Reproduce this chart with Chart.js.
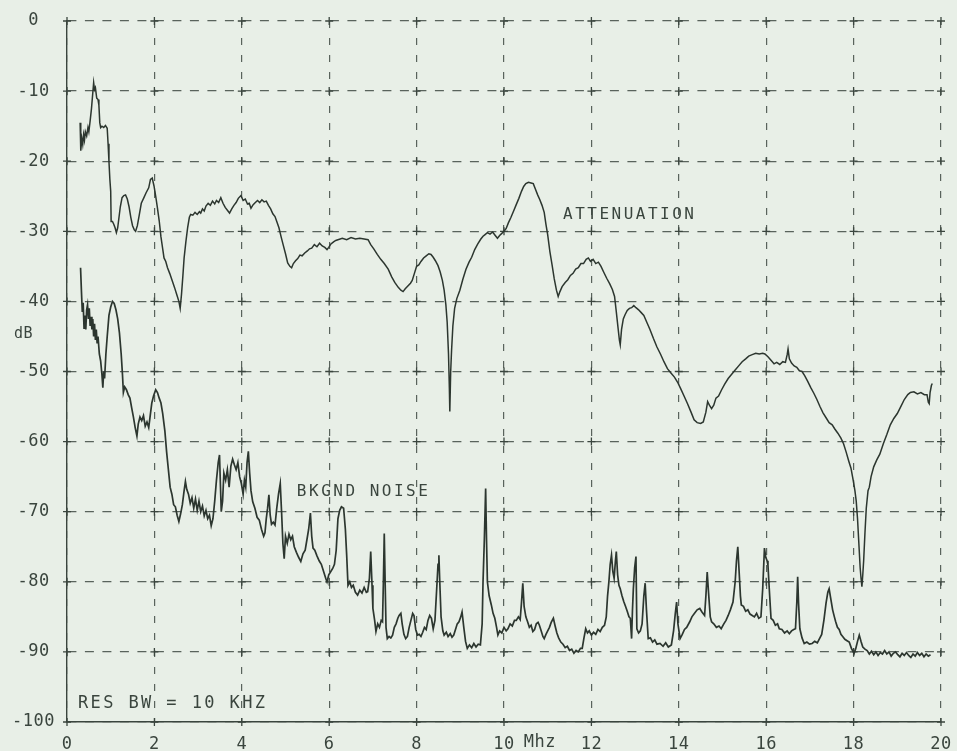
<!DOCTYPE html>
<html>
<head>
<meta charset="utf-8">
<script src="https://cdn.jsdelivr.net/npm/chart.js@4.4.1/dist/chart.umd.min.js"></script>
<style>
  html, body { margin: 0; padding: 0; background: #e8efe7; }
  #wrap { width: 957px; height: 751px; }
</style>
</head>
<body>
<div id="wrap"><canvas id="c" width="957" height="751"></canvas></div>
<script>
// Cable attenuation sweep, 0 - 20 MHz (dB)
const attenFreq = [0.30,0.31,0.32,0.34,0.36,0.38,0.40,0.42,0.45,0.48,0.50,0.53,0.56,0.58,0.61,0.63,0.65,0.68,0.71,0.73,0.75,0.77,0.80,0.84,0.88,0.92,0.94,0.96,0.98,1.00,1.01,1.04,1.07,1.10,1.13,1.16,1.19,1.22,1.26,1.30,1.34,1.38,1.42,1.46,1.50,1.54,1.57,1.61,1.65,1.70,1.76,1.81,1.87,1.91,1.95,1.99,2.03,2.07,2.11,2.15,2.19,2.22,2.26,2.30,2.35,2.41,2.46,2.52,2.56,2.59,2.62,2.65,2.68,2.72,2.76,2.80,2.83,2.88,2.93,2.98,3.03,3.06,3.10,3.14,3.18,3.23,3.28,3.33,3.38,3.42,3.47,3.52,3.57,3.62,3.67,3.72,3.77,3.82,3.87,3.92,3.98,4.03,4.08,4.13,4.17,4.21,4.26,4.31,4.36,4.41,4.46,4.51,4.56,4.61,4.66,4.71,4.76,4.80,4.85,4.90,4.95,5.00,5.05,5.10,5.14,5.18,5.23,5.28,5.33,5.38,5.44,5.50,5.55,5.60,5.66,5.72,5.78,5.84,5.90,5.95,5.99,6.04,6.10,6.15,6.20,6.30,6.40,6.50,6.60,6.70,6.80,6.89,6.95,7.02,7.10,7.18,7.26,7.35,7.43,7.50,7.58,7.64,7.69,7.74,7.80,7.86,7.90,7.95,8.00,8.05,8.10,8.16,8.22,8.28,8.33,8.38,8.43,8.49,8.54,8.59,8.63,8.67,8.70,8.73,8.75,8.76,8.78,8.80,8.83,8.87,8.92,8.99,9.06,9.13,9.20,9.26,9.33,9.40,9.47,9.52,9.56,9.62,9.68,9.74,9.80,9.85,9.90,9.95,10.00,10.05,10.10,10.16,10.22,10.28,10.34,10.40,10.45,10.50,10.56,10.62,10.67,10.72,10.77,10.82,10.87,10.92,10.96,11.00,11.05,11.10,11.15,11.20,11.24,11.28,11.33,11.40,11.46,11.52,11.58,11.64,11.70,11.76,11.82,11.88,11.93,11.98,12.04,12.10,12.16,12.22,12.28,12.35,12.42,12.48,12.53,12.57,12.61,12.64,12.66,12.69,12.73,12.77,12.82,12.87,12.92,12.97,13.02,13.08,13.14,13.20,13.27,13.34,13.42,13.50,13.58,13.66,13.74,13.82,13.90,13.97,14.04,14.12,14.20,14.28,14.35,14.42,14.50,14.56,14.62,14.66,14.70,14.75,14.80,14.85,14.91,14.98,15.05,15.13,15.21,15.29,15.37,15.45,15.53,15.60,15.68,15.76,15.84,15.92,15.97,16.04,16.11,16.18,16.24,16.31,16.38,16.44,16.48,16.50,16.53,16.58,16.64,16.70,16.76,16.82,16.88,16.95,17.02,17.09,17.16,17.23,17.30,17.37,17.44,17.51,17.57,17.64,17.71,17.77,17.83,17.89,17.94,17.99,18.03,18.06,18.09,18.12,18.15,18.17,18.19,18.21,18.23,18.26,18.29,18.33,18.36,18.40,18.46,18.53,18.60,18.68,18.76,18.84,18.92,19.00,19.08,19.16,19.24,19.30,19.38,19.46,19.54,19.62,19.68,19.71,19.73,19.75,19.78,19.80];
const attenDb = [-14.5,-17.5,-18.5,-16.8,-17.6,-16.2,-17.0,-15.8,-16.4,-15.2,-15.8,-14.2,-12.5,-11.0,-8.8,-9.8,-9.5,-11.0,-11.2,-12.0,-14.5,-15.2,-15.0,-15.2,-14.9,-15.3,-17.5,-20.0,-22.5,-24.3,-28.6,-28.6,-29.0,-29.5,-30.2,-29.5,-28.0,-26.5,-25.2,-24.9,-24.8,-25.4,-26.5,-28.0,-29.2,-29.8,-30.0,-29.2,-27.8,-26.0,-25.2,-24.5,-23.8,-22.6,-22.4,-23.5,-25.0,-26.7,-28.5,-30.8,-32.5,-33.8,-34.3,-35.2,-36.0,-37.1,-38.0,-39.2,-40.0,-41.0,-39.0,-36.5,-33.8,-31.5,-29.5,-28.0,-27.6,-27.7,-27.3,-27.6,-27.2,-27.4,-26.8,-27.1,-26.4,-26.0,-26.3,-25.7,-26.1,-25.6,-25.9,-25.2,-26.0,-26.6,-27.0,-27.4,-26.8,-26.3,-25.9,-25.3,-24.9,-25.6,-25.4,-26.1,-26.0,-26.7,-26.2,-25.9,-25.6,-25.9,-25.5,-25.8,-25.7,-26.3,-26.8,-27.5,-27.9,-28.6,-29.5,-30.8,-32.0,-33.2,-34.5,-35.0,-35.2,-34.6,-34.2,-33.9,-33.4,-33.5,-33.1,-32.8,-32.5,-32.4,-31.9,-32.2,-31.7,-32.1,-32.3,-32.6,-32.3,-31.8,-31.5,-31.3,-31.2,-31.0,-31.2,-30.9,-31.1,-31.0,-31.1,-31.2,-31.9,-32.5,-33.3,-34.0,-34.6,-35.4,-36.5,-37.3,-38.0,-38.4,-38.6,-38.2,-37.8,-37.4,-37.0,-36.0,-35.0,-34.8,-34.3,-33.8,-33.5,-33.2,-33.3,-33.7,-34.2,-34.9,-35.8,-37.0,-38.4,-40.5,-43.0,-47.5,-52.5,-55.7,-50.0,-47.0,-43.5,-41.0,-39.6,-38.4,-36.8,-35.4,-34.4,-33.7,-32.6,-31.8,-31.1,-30.7,-30.5,-30.2,-30.4,-30.1,-30.6,-31.0,-30.6,-30.3,-30.0,-29.6,-28.8,-28.0,-27.1,-26.2,-25.3,-24.3,-23.6,-23.2,-23.0,-23.1,-23.2,-24.0,-24.8,-25.5,-26.3,-27.3,-29.0,-30.5,-32.9,-34.8,-36.8,-38.4,-39.3,-38.6,-37.9,-37.3,-36.9,-36.3,-36.0,-35.4,-35.2,-34.6,-34.6,-34.0,-33.8,-34.3,-34.0,-34.6,-34.4,-35.0,-35.8,-36.7,-37.5,-38.3,-39.3,-41.5,-43.8,-45.5,-46.2,-44.0,-42.5,-41.9,-41.3,-41.0,-40.9,-40.6,-40.9,-41.2,-41.6,-42.0,-43.0,-44.0,-45.3,-46.5,-47.5,-48.6,-49.6,-50.2,-50.8,-51.5,-52.4,-53.5,-54.6,-55.8,-56.9,-57.3,-57.4,-57.2,-55.8,-54.3,-54.8,-55.3,-54.8,-53.8,-53.5,-52.6,-51.8,-51.0,-50.4,-49.8,-49.2,-48.6,-48.2,-47.8,-47.6,-47.4,-47.5,-47.4,-47.5,-47.9,-48.4,-48.9,-48.7,-49.0,-48.6,-48.7,-47.6,-46.8,-48.2,-48.8,-49.2,-49.4,-49.9,-50.0,-50.6,-51.4,-52.3,-53.1,-54.0,-55.0,-55.9,-56.6,-57.3,-57.6,-58.2,-58.8,-59.5,-60.3,-61.5,-62.8,-63.8,-65.5,-67.0,-68.5,-71.0,-74.5,-78.0,-79.5,-80.7,-79.0,-77.0,-73.0,-69.5,-67.0,-66.5,-65.0,-63.6,-62.6,-61.8,-60.3,-59.0,-57.6,-56.7,-56.0,-55.0,-54.0,-53.3,-53.0,-52.9,-53.2,-53.0,-53.3,-53.3,-54.4,-54.6,-53.0,-52.0,-51.7];

// Background noise floor, same sweep (dB)
const noiseFreq = [0.31,0.33,0.35,0.37,0.39,0.41,0.43,0.45,0.47,0.49,0.51,0.53,0.55,0.57,0.59,0.61,0.63,0.65,0.67,0.69,0.71,0.74,0.77,0.80,0.82,0.84,0.86,0.89,0.92,0.96,1.00,1.04,1.08,1.12,1.16,1.20,1.24,1.27,1.29,1.32,1.36,1.40,1.44,1.48,1.52,1.56,1.60,1.63,1.67,1.71,1.75,1.79,1.83,1.87,1.90,1.94,1.98,2.03,2.07,2.11,2.15,2.19,2.24,2.28,2.32,2.36,2.40,2.44,2.48,2.52,2.56,2.60,2.64,2.68,2.71,2.74,2.78,2.82,2.86,2.90,2.94,2.98,3.02,3.06,3.10,3.14,3.18,3.22,3.26,3.30,3.34,3.38,3.42,3.46,3.49,3.51,3.53,3.56,3.59,3.63,3.67,3.71,3.75,3.79,3.83,3.87,3.91,3.95,3.99,4.03,4.06,4.09,4.12,4.15,4.18,4.21,4.25,4.30,4.35,4.40,4.45,4.50,4.53,4.56,4.59,4.62,4.65,4.68,4.72,4.76,4.80,4.84,4.88,4.91,4.94,4.97,5.00,5.04,5.08,5.12,5.16,5.20,5.25,5.30,5.35,5.40,5.45,5.49,5.53,5.57,5.60,5.63,5.67,5.72,5.77,5.82,5.87,5.92,5.95,5.99,6.04,6.08,6.12,6.16,6.20,6.24,6.28,6.33,6.37,6.40,6.43,6.47,6.51,6.55,6.60,6.65,6.70,6.75,6.80,6.85,6.88,6.92,6.95,6.98,7.00,7.04,7.07,7.11,7.15,7.19,7.22,7.24,7.26,7.28,7.30,7.33,7.37,7.41,7.45,7.49,7.53,7.57,7.60,7.64,7.67,7.71,7.75,7.79,7.83,7.87,7.91,7.94,7.98,8.02,8.06,8.10,8.14,8.18,8.22,8.26,8.30,8.34,8.38,8.42,8.46,8.49,8.51,8.53,8.56,8.60,8.63,8.68,8.72,8.77,8.81,8.85,8.89,8.93,8.97,9.01,9.04,9.08,9.12,9.16,9.21,9.26,9.31,9.36,9.41,9.46,9.50,9.52,9.55,9.58,9.60,9.62,9.66,9.71,9.75,9.79,9.83,9.86,9.90,9.95,10.00,10.05,10.09,10.14,10.19,10.24,10.28,10.33,10.37,10.40,10.43,10.46,10.50,10.54,10.58,10.62,10.66,10.70,10.74,10.78,10.81,10.85,10.89,10.92,10.96,11.00,11.04,11.08,11.13,11.17,11.21,11.25,11.30,11.35,11.40,11.45,11.50,11.55,11.60,11.65,11.70,11.75,11.79,11.83,11.87,11.91,11.95,12.00,12.05,12.10,12.15,12.20,12.25,12.30,12.34,12.37,12.40,12.43,12.46,12.49,12.52,12.55,12.57,12.60,12.63,12.66,12.70,12.74,12.78,12.82,12.86,12.89,12.92,12.94,12.96,12.99,13.02,13.04,13.08,13.12,13.16,13.20,13.23,13.26,13.30,13.35,13.40,13.45,13.50,13.57,13.64,13.70,13.76,13.83,13.88,13.92,13.95,13.98,14.03,14.08,14.13,14.18,14.25,14.30,14.36,14.42,14.48,14.53,14.59,14.62,14.65,14.68,14.72,14.75,14.80,14.86,14.92,14.97,15.03,15.08,15.13,15.18,15.24,15.29,15.32,15.35,15.38,15.41,15.43,15.48,15.53,15.58,15.63,15.68,15.73,15.78,15.83,15.88,15.92,15.96,15.99,16.02,16.04,16.07,16.11,16.16,16.21,16.26,16.30,16.36,16.42,16.48,16.53,16.58,16.63,16.67,16.70,16.72,16.74,16.77,16.82,16.87,16.93,16.99,17.05,17.11,17.17,17.22,17.27,17.32,17.37,17.41,17.44,17.48,17.52,17.56,17.59,17.63,17.67,17.71,17.75,17.80,17.85,17.90,17.95,18.01,18.05,18.09,18.13,18.17,18.21,18.26,18.31,18.36,18.41,18.46,18.51,18.56,18.61,18.66,18.71,18.76,18.81,18.86,18.91,18.96,19.01,19.06,19.11,19.16,19.21,19.26,19.31,19.36,19.41,19.46,19.51,19.56,19.61,19.66,19.71,19.76];
const noiseDb = [-35.2,-38.5,-41.5,-40.2,-43.8,-42.0,-44.0,-41.2,-40.5,-42.5,-41.0,-43.5,-42.2,-44.0,-42.5,-45.0,-43.2,-45.5,-44.0,-46.0,-45.0,-47.5,-48.5,-50.5,-52.3,-50.0,-51.0,-47.5,-45.0,-42.0,-40.8,-40.0,-40.3,-41.2,-42.5,-44.5,-47.5,-50.5,-53.0,-52.2,-52.6,-53.3,-53.8,-55.2,-56.5,-58.0,-59.2,-57.5,-56.5,-57.0,-56.3,-57.8,-57.2,-58.0,-56.5,-54.5,-53.5,-52.6,-53.0,-53.8,-54.5,-56.0,-58.5,-61.5,-64.0,-66.5,-67.5,-69.0,-69.3,-70.5,-71.4,-70.3,-69.0,-67.0,-65.7,-66.8,-67.5,-68.8,-68.0,-69.5,-68.2,-69.8,-68.5,-70.0,-69.2,-70.6,-69.8,-71.0,-70.5,-72.0,-71.0,-68.5,-65.5,-63.0,-61.9,-66.0,-70.0,-68.5,-64.5,-65.5,-64.0,-66.5,-63.5,-62.5,-63.3,-64.0,-63.0,-65.0,-66.0,-67.5,-65.5,-66.5,-63.0,-61.4,-64.5,-67.0,-68.6,-69.5,-70.8,-71.2,-72.5,-73.5,-73.0,-71.0,-69.5,-67.6,-70.5,-71.8,-71.5,-71.9,-69.5,-67.5,-66.0,-70.0,-74.5,-76.7,-73.5,-74.5,-73.2,-74.0,-73.5,-75.0,-75.8,-76.5,-77.1,-76.0,-75.5,-74.0,-72.5,-70.2,-73.5,-75.2,-75.5,-76.3,-77.0,-77.5,-78.5,-79.5,-80.0,-79.0,-78.5,-78.1,-77.5,-75.5,-71.0,-69.8,-69.3,-69.5,-72.5,-76.2,-80.5,-80.0,-80.8,-80.5,-81.5,-81.9,-81.2,-81.6,-80.8,-81.5,-81.4,-79.5,-75.7,-80.5,-83.8,-85.5,-87.1,-86.0,-86.5,-85.5,-85.7,-80.0,-73.1,-80.0,-86.5,-88.1,-87.8,-88.0,-87.6,-86.5,-86.0,-85.2,-84.8,-84.5,-86.0,-87.5,-88.1,-87.8,-86.5,-85.5,-84.5,-84.8,-86.8,-87.6,-87.5,-87.8,-87.2,-86.5,-86.8,-85.5,-84.8,-85.2,-86.7,-85.5,-81.0,-77.5,-76.2,-80.0,-85.0,-87.0,-87.6,-87.2,-87.8,-87.4,-87.9,-87.6,-86.8,-86.0,-85.7,-85.0,-84.3,-86.5,-88.5,-89.5,-89.0,-89.4,-88.8,-89.3,-88.9,-89.0,-86.0,-80.0,-74.0,-66.7,-74.0,-80.0,-82.0,-83.3,-84.5,-85.2,-86.5,-87.6,-87.0,-87.3,-86.5,-87.0,-86.7,-86.0,-86.3,-85.5,-85.5,-85.0,-85.4,-83.0,-80.2,-83.5,-85.0,-85.7,-86.5,-86.2,-87.1,-86.8,-86.0,-85.8,-86.2,-87.0,-87.8,-88.1,-87.5,-87.0,-86.5,-85.8,-85.2,-86.3,-87.3,-88.0,-88.6,-88.9,-89.4,-89.2,-89.8,-89.6,-90.2,-89.8,-90.0,-89.5,-89.5,-88.0,-86.7,-87.3,-87.0,-87.6,-87.2,-87.5,-86.8,-87.1,-86.5,-86.2,-85.0,-82.0,-80.0,-77.5,-76.2,-78.5,-79.5,-77.0,-75.7,-79.0,-80.5,-81.0,-82.0,-82.8,-83.5,-84.2,-85.0,-85.2,-88.1,-84.0,-81.0,-78.0,-76.4,-86.7,-87.3,-87.0,-86.0,-82.0,-80.2,-84.0,-88.1,-88.0,-88.6,-88.3,-88.9,-88.8,-89.2,-88.7,-89.3,-89.0,-87.0,-84.5,-82.9,-86.0,-88.1,-87.5,-86.8,-86.5,-85.7,-85.0,-84.5,-84.0,-83.8,-84.3,-84.8,-82.0,-78.6,-81.5,-85.0,-85.7,-86.0,-86.5,-86.3,-86.7,-86.0,-85.5,-84.8,-84.0,-82.9,-80.0,-77.0,-75.0,-78.5,-82.0,-83.3,-83.5,-84.2,-84.0,-84.6,-84.8,-85.0,-84.5,-85.2,-85.0,-81.0,-75.2,-76.5,-77.0,-77.6,-81.0,-85.2,-85.5,-86.2,-86.0,-86.7,-86.8,-87.3,-87.0,-87.4,-87.0,-86.8,-86.7,-83.0,-79.3,-83.0,-86.7,-88.0,-88.8,-88.6,-88.9,-88.8,-88.5,-88.7,-88.1,-87.5,-85.5,-83.0,-81.5,-81.0,-82.5,-84.0,-85.0,-85.7,-86.5,-86.8,-87.5,-87.8,-88.2,-88.4,-88.6,-89.5,-90.2,-89.5,-88.5,-87.6,-88.5,-89.3,-89.6,-89.8,-90.3,-89.9,-90.4,-90.0,-90.5,-90.1,-90.3,-89.8,-90.3,-90.0,-90.6,-90.2,-90.0,-90.4,-90.7,-90.2,-90.5,-90.1,-90.5,-90.8,-90.3,-90.6,-90.1,-90.5,-90.2,-90.7,-90.3,-90.6,-90.4];

// Axis ticks
const freqTicks = [0, 2, 4, 6, 8, 10, 12, 14, 16, 18, 20];
const dbTicks = [0, -10, -20, -30, -40, -50, -60, -70, -80, -90, -100];

const INK = '#3a453e';
const GRID = 'rgba(64,74,67,0.85)';
const PAPER = '#e8efe7';
const FONT = 'DejaVu Sans Mono';

function toPoints(xs, ys) { return xs.map((x, i) => ({ x: x, y: ys[i] })); }

// Plotter paper, grid crosses and hand annotations
const plotter = {
  id: 'plotter',
  beforeUpdate(chart) { chart.ctx.letterSpacing = '0.5px'; },
  beforeDraw(chart) {
    const ctx = chart.ctx;
    ctx.save();
    ctx.fillStyle = PAPER;
    ctx.fillRect(0, 0, chart.width, chart.height);
    ctx.restore();
    ctx.letterSpacing = '0.5px';
  },
  beforeDatasetsDraw(chart) {
    const ctx = chart.ctx, xs = chart.scales.x, ys = chart.scales.y;
    ctx.save();
    ctx.strokeStyle = INK;
    ctx.lineWidth = 1.3;
    ctx.setLineDash([]);
    const arm = 4;
    freqTicks.forEach(f => {
      dbTicks.forEach(d => {
        const px = xs.getPixelForValue(f), py = ys.getPixelForValue(d);
        ctx.beginPath();
        ctx.moveTo(px - arm, py); ctx.lineTo(px + arm, py);
        ctx.moveTo(px, py - arm); ctx.lineTo(px, py + arm);
        ctx.stroke();
      });
    });
    ctx.restore();
  },
  afterDraw(chart) {
    const ctx = chart.ctx, xs = chart.scales.x, ys = chart.scales.y;
    ctx.save();
    ctx.fillStyle = INK;
    ctx.textBaseline = 'middle';
    ctx.textAlign = 'left';
    ctx.letterSpacing = '2.5px';
    ctx.font = '16px "' + FONT + '"';
    ctx.fillText('ATTENUATION', xs.getPixelForValue(11.35), ys.getPixelForValue(-27.7));
    ctx.fillText('BKGND NOISE', xs.getPixelForValue(5.26), ys.getPixelForValue(-67.1));
    ctx.letterSpacing = '2.4px';
    ctx.font = '17px "' + FONT + '"';
    ctx.fillText('RES BW = 10 KHZ', xs.getPixelForValue(0.25), ys.getPixelForValue(-97.4));
    ctx.letterSpacing = '0.5px';
    ctx.font = '15px "' + FONT + '"';
    ctx.fillText('dB', 14, ys.getPixelForValue(-44.6));
    ctx.letterSpacing = '0.5px';
    ctx.font = '17px "' + FONT + '"';
    ctx.fillText('Mhz', xs.getPixelForValue(10.45), xs.bottom - 8);
    ctx.restore();
  }
};

new Chart(document.getElementById('c'), {
  type: 'line',
  data: {
    datasets: [
      {
        label: 'ATTENUATION',
        data: toPoints(attenFreq, attenDb),
        borderColor: '#2c362f',
        borderWidth: 1.5,
        pointRadius: 0,
        tension: 0
      },
      {
        label: 'BKGND NOISE',
        data: toPoints(noiseFreq, noiseDb),
        borderColor: '#2c362f',
        borderWidth: 1.7,
        pointRadius: 0,
        tension: 0
      }
    ]
  },
  options: {
    responsive: false,
    animation: false,
    parsing: false,
    layout: { padding: { left: 0, right: 16, top: 21, bottom: 0 } },
    plugins: { legend: { display: false }, tooltip: { enabled: false } },
    scales: {
      x: {
        type: 'linear',
        min: 0, max: 20,
        afterBuildTicks(scale) { scale.ticks = freqTicks.map(v => ({ value: v })); },
        afterFit(scale) {
          scale.height = 29;
          scale.paddingLeft = 0;
          scale.paddingRight = 0;
        },
        ticks: {
          color: INK,
          font: { family: FONT, size: 17 },
          padding: 12,
          maxRotation: 0,
          autoSkip: false,
          callback: v => String(v)
        },
        grid: { color: GRID, lineWidth: 1.2, drawTicks: false },
        border: { display: true, color: INK, width: 1.4, dash: [7, 10] }
      },
      y: {
        type: 'linear',
        min: -100, max: 0,
        afterBuildTicks(scale) { scale.ticks = dbTicks.map(v => ({ value: v })); },
        afterFit(scale) {
          scale.width = 67;
          scale.paddingTop = 0;
          scale.paddingBottom = 0;
        },
        ticks: {
          color: INK,
          font: { family: FONT, size: 17 },
          padding: 12,
          crossAlign: 'center',
          autoSkip: false,
          callback: v => String(v)
        },
        grid: { color: GRID, lineWidth: 1.2, drawTicks: false },
        border: { display: true, color: INK, width: 1.4, dash: [9, 8.5] }
      }
    }
  },
  plugins: [plotter]
});
</script>
</body>
</html>
